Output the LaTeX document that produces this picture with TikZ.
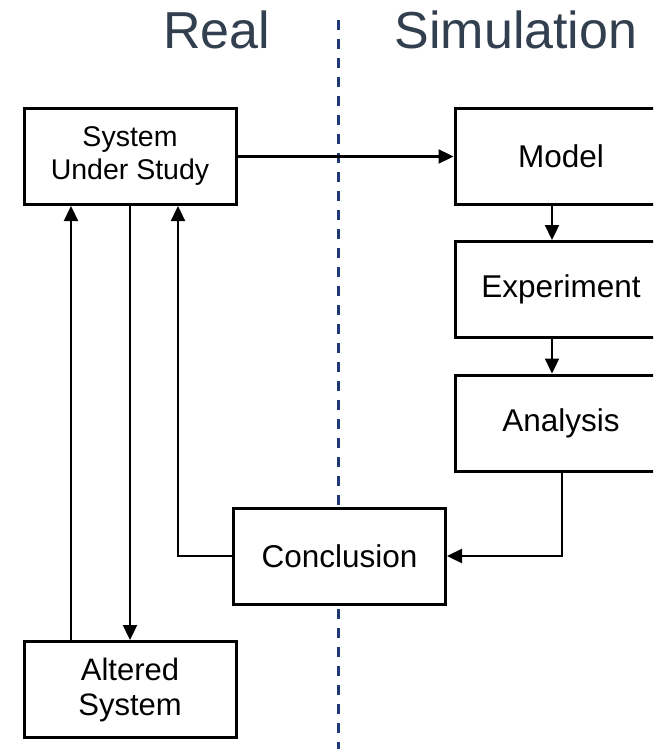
\documentclass[tikz,border=0pt]{standalone}
\usepackage{fontspec}
\setmainfont{Liberation Sans}
\usetikzlibrary{arrows.meta}
\definecolor{headtext}{RGB}{50,63,79}
\definecolor{divider}{RGB}{31,56,120}
\begin{document}
\begin{tikzpicture}[x=1pt,y=-1pt,
  box/.style={draw=black,line width=3pt,fill=white,minimum width=212pt,
    minimum height=96pt,inner sep=0pt,align=center,font=\fontsize{31.5}{35}\selectfont},
  arr/.style={line width=2.3pt,-{Triangle[length=15pt,width=14pt]}},
  head/.style={anchor=base,text=headtext,font=\fontsize{52}{60}\selectfont,inner sep=0pt}]
\useasboundingbox (0,0) rectangle (653,749);
\begin{scope}
\clip (0,0) rectangle (653,749);
% divider between the two columns
\coordinate (divtop) at (338,20);
\coordinate (divbot) at (338,755);
\draw[divider,line width=3pt,dash pattern=on 10pt off 9pt] (divtop) -- (divbot);

% column headings
\node[head] (real) at (216.5,49) {Real};
\node[head] (sim) at (516,49) {Simulation};

% boxes
\node[box,font=\fontsize{28.5}{33}\selectfont] (sus) at (130,156.5) {System\\Under Study};
\node[box] (model) at (561,156.5) {Model};
\node[box] (exp) at (561,289.5) {Experiment};
\node[box] (ana) at (561,423) {Analysis};
\node[box] (concl) at (339.5,556) {Conclusion};
\node[box,font=\fontsize{31}{35}\selectfont] (alt) at (130,689.5) {Altered\\System};

% connectors
\draw[arr] (sus.east) -- (model.west);
\draw[arr] ([xshift=-9pt]model.south) -- ([xshift=-9pt]exp.north);
\draw[arr] ([xshift=-9pt]exp.south) -- ([xshift=-9pt]ana.north);
\draw[arr] ([xshift=1pt]ana.south) |- (concl.east);
\draw[arr] (concl.west) -| ([xshift=48pt]sus.south);
\draw[arr] (sus.south) -- (alt.north);
\draw[arr] ([xshift=-59pt]alt.north) -- ([xshift=-59pt]sus.south);
\end{scope}
\end{tikzpicture}
\end{document}
